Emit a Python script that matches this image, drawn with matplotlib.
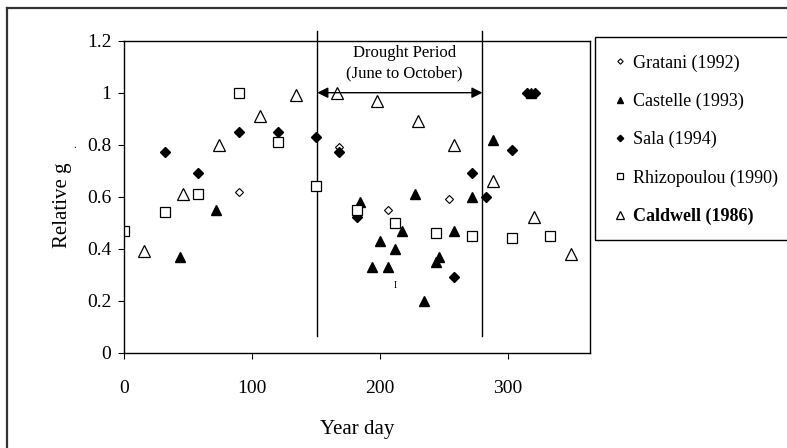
import numpy as np
import matplotlib
matplotlib.use("Agg")
import matplotlib.pyplot as plt
from matplotlib.lines import Line2D
from matplotlib.patches import Rectangle

plt.rcParams['font.family'] = ['Liberation Serif', 'DejaVu Serif']

# data: (year day, relative g)
gratani_x = [90, 168, 206, 254]
gratani_y = [0.62, 0.79, 0.55, 0.59]

castelle_x = [44, 72, 184, 194, 200, 206, 212, 217, 227, 234, 244, 246, 258, 272, 288, 318]
castelle_y = [0.37, 0.55, 0.58, 0.33, 0.43, 0.33, 0.40, 0.47, 0.61, 0.20, 0.35, 0.37, 0.47, 0.60, 0.82, 1.00]

sala_x = [32, 58, 90, 120, 150, 168, 182, 258, 272, 283, 303, 315, 321]
sala_y = [0.77, 0.69, 0.85, 0.85, 0.83, 0.77, 0.52, 0.29, 0.69, 0.60, 0.78, 1.00, 1.00]

rhizo_x = [0, 32, 58, 90, 120, 150, 182, 212, 244, 272, 303, 333]
rhizo_y = [0.47, 0.54, 0.61, 1.00, 0.81, 0.64, 0.55, 0.50, 0.46, 0.45, 0.44, 0.45]

caldwell_x = [16, 46, 74, 106, 134, 166, 198, 230, 258, 288, 320, 349]
caldwell_y = [0.39, 0.61, 0.80, 0.91, 0.99, 1.00, 0.97, 0.89, 0.80, 0.66, 0.52, 0.38]

drought_start = 151
drought_end = 280
stray_mark = (212, 0.26)

#%%

fig = plt.figure(figsize=(7.87, 4.48), dpi=100)
ax = fig.add_axes([124/787, 1 - 352.7/448, (590 - 124)/787, (352.7 - 40.7)/448])

ax.plot(gratani_x, gratani_y, ls='none', marker='D', ms=4.2, mfc='white', mec='black', mew=0.8,
        label='Gratani (1992)')
ax.plot(castelle_x, castelle_y, ls='none', marker='^', ms=7, mfc='black', mec='black',
        label='Castelle (1993)')
ax.plot(sala_x, sala_y, ls='none', marker='D', ms=5, mfc='black', mec='black',
        label='Sala (1994)')
ax.plot(rhizo_x, rhizo_y, ls='none', marker='s', ms=7, mfc='white', mec='black', mew=0.9,
        label='Rhizopoulou (1990)')
ax.plot(caldwell_x, caldwell_y, ls='none', marker='^', ms=8.5, mfc='white', mec='black', mew=0.9,
        label='Caldwell (1986)')

# drought period lines and arrow
for xv in [drought_start, drought_end]:
    ax.plot([xv, xv], [0.064, 1.237], color='black', lw=1, clip_on=False, zorder=1)
ax.annotate('', xy=(drought_end, 1.0), xytext=(drought_start, 1.0),
            arrowprops=dict(arrowstyle='<|-|>', color='black', lw=1, mutation_scale=16,
                            shrinkA=0, shrinkB=0))
ax.text(219, 1.115, 'Drought Period\n(June to October)', ha='center', va='center', fontsize=12,
        linespacing=1.35)
ax.text(stray_mark[0], stray_mark[1], 'I', ha='center', va='center', fontsize=7)

ax.set(xlim=[0, 364], ylim=[0, 1.2])
ax.set_xticks([0, 100, 200, 300])
ax.set_yticks([0, 0.2, 0.4, 0.6, 0.8, 1.0, 1.2])
ax.set_yticklabels(['0', '0.2', '0.4', '0.6', '0.8', '1', '1.2'])
ax.tick_params(direction='out', length=4, labelsize=14, pad=5)
ax.tick_params(axis='x', pad=16)
for s in ax.spines.values():
    s.set_linewidth(1)
ax.set_xlabel('Year day', fontsize=15, labelpad=16)

fig.text(63/787, 1 - 205/448, 'Relative g', rotation=90, ha='center', va='center', fontsize=15)
fig.text(75/787, 1 - 145/448, '.', ha='center', va='center', fontsize=8)

# legend box
fig.patches.append(Rectangle((595/787, 1 - 240/448), 0.3, (240 - 37)/448, transform=fig.transFigure,
                             fill=False, edgecolor='black', lw=1))
leg = fig.legend(loc='upper left', bbox_to_anchor=(602/787, 1 - 47/448), frameon=False,
                 fontsize=13, markerscale=0.65, handletextpad=0.1, handlelength=1.2,
                 labelspacing=1.17, borderaxespad=0)
for t in leg.get_texts():
    if 'Caldwell' in t.get_text():
        t.set_fontweight('bold')

# outer frame (top and left edges)
fig.add_artist(Line2D([7/787, 1.0], [1 - 8/448, 1 - 8/448], transform=fig.transFigure,
                      color='#333333', lw=1.6))
fig.add_artist(Line2D([7/787, 7/787], [0, 1 - 8/448], transform=fig.transFigure,
                      color='#333333', lw=1.6))

plt.savefig('out.png', dpi=100)
plt.close()
